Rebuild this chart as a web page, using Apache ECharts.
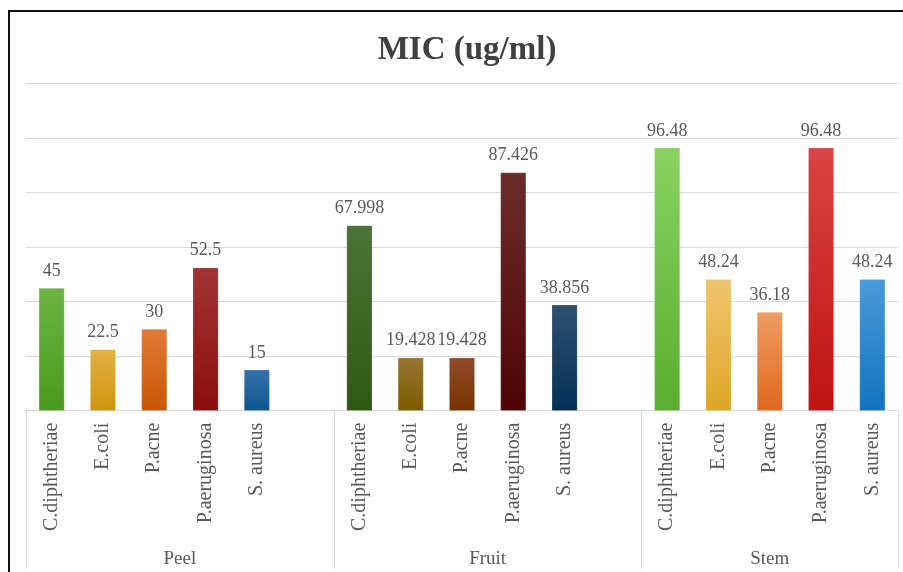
<!DOCTYPE html>
<html>
<head>
<meta charset="utf-8">
<script src="https://cdn.jsdelivr.net/npm/echarts@6/dist/echarts.min.js"></script>
<style>
  html, body { margin: 0; padding: 0; background: #fff; }
  #chart { width: 903px; height: 572px; }
</style>
</head>
<body>
<div id="chart"></div>
<script>
// ---- data ----
const groups = ['Peel', 'Fruit', 'Stem'];
const bacteria = ['C.diphtheriae', 'E.coli', 'P.acne', 'P.aeruginosa', 'S. aureus'];
const peelValues  = [45, 22.5, 30, 52.5, 15];
const fruitValues = [67.998, 19.428, 19.428, 87.426, 38.856];
const stemValues  = [96.48, 48.24, 36.18, 96.48, 48.24];
const yTicks = [0, 20, 40, 60, 80, 100, 120];

// ---- styles (top, bottom gradient colours) ----
const peelColors = [
  ['#6cb443', '#4a9a1e'], ['#e4b244', '#cf9510'], ['#e07b37', '#c85606'],
  ['#a23434', '#8a0d0d'], ['#3672aa', '#0e5690']
];
const fruitColors = [
  ['#4b7438', '#2c5912'], ['#957430', '#7d5c00'], ['#8f4c2a', '#793200'],
  ['#6b2b2b', '#4e0404'], ['#2f4f6f', '#053155']
];
const stemColors = [
  ['#8ad262', '#5aae2e'], ['#efc670', '#dea626'], ['#ef9c62', '#df681c'],
  ['#d94444', '#bf1212'], ['#4a9ad9', '#1373bf']
];

// ---- build category axis (with one empty slot after Peel and Fruit) ----
const categories = [];
const seriesData = [];
function grad(c) {
  return { type: 'linear', x: 0, y: 0, x2: 0, y2: 1,
    colorStops: [{ offset: 0, color: c[0] }, { offset: 1, color: c[1] }] };
}
function addGroup(values, colors, trailingGap) {
  values.forEach((v, i) => {
    categories.push(bacteria[i]);
    seriesData.push({ value: v, itemStyle: { color: grad(colors[i]) } });
  });
  if (trailingGap) { categories.push(''); seriesData.push(null); }
}
addGroup(peelValues, peelColors, true);
addGroup(fruitValues, fruitColors, true);
addGroup(stemValues, stemColors, false);

// group spans on the slot scale
const groupBounds = [0, 6, 12, categories.length];
const groupCenters = [3, 9, (12 + categories.length) / 2];

const serif = 'Liberation Serif';
const chart = echarts.init(document.getElementById('chart'));
chart.setOption({
  animation: false,
  title: {
    text: 'MIC (ug/ml)',
    left: 462,
    textAlign: 'center',
    top: 29,
    textStyle: { fontFamily: serif, fontSize: 33, fontWeight: 'bold', color: '#404040' }
  },
  graphic: [{
    type: 'polyline',
    shape: { points: [[9, 572], [9, 11], [903, 11]] },
    style: { stroke: '#111', lineWidth: 2, fill: null }
  }],
  grid: { left: 26, right: 5, top: 83.7, bottom: 161.3 },
  xAxis: [{
    type: 'category',
    data: categories,
    axisLine: { lineStyle: { color: '#d9d9d9', width: 1 } },
    axisTick: { show: false },
    axisLabel: {
      interval: 0, rotate: 90, margin: 12,
      fontFamily: serif, fontSize: 20, color: '#595959'
    }
  }, {
    type: 'value',
    position: 'bottom',
    min: 0, max: categories.length,
    axisLine: { show: false },
    splitLine: { show: false },
    axisTick: {
      show: true, length: 158, customValues: groupBounds,
      lineStyle: { color: '#d9d9d9', width: 1 }
    },
    axisLabel: {
      customValues: groupCenters, margin: 139,
      fontFamily: serif, fontSize: 19, color: '#595959',
      formatter: function (v) {
        const idx = groupCenters.indexOf(v);
        return idx >= 0 ? groups[idx] : '';
      }
    }
  }],
  yAxis: {
    type: 'value',
    min: yTicks[0], max: yTicks[yTicks.length - 1], interval: yTicks[1] - yTicks[0],
    axisLabel: { show: false },
    axisLine: { show: false },
    axisTick: { show: false },
    splitLine: { lineStyle: { color: '#d9d9d9', width: 1 } }
  },
  series: [{
    type: 'bar',
    xAxisIndex: 0,
    data: seriesData,
    barWidth: '50%',
    itemStyle: { borderColor: 'rgba(255,255,255,0.35)', borderWidth: 0.5 },
    label: {
      show: true, position: 'top', distance: 8,
      fontFamily: serif, fontSize: 18, color: '#595959'
    }
  }]
});
</script>
</body>
</html>
